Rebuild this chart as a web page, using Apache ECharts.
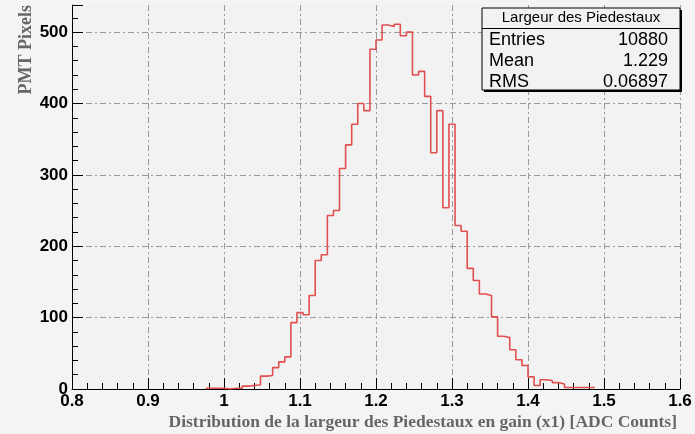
<!DOCTYPE html>
<html>
<head>
<meta charset="utf-8">
<script src="https://cdn.jsdelivr.net/npm/echarts@6/dist/echarts.min.js"></script>
<style>
  html, body { margin: 0; padding: 0; background: #f4f4f4; }
  #chart { width: 695px; height: 434px; }
</style>
</head>
<body>
<div id="chart"></div>
<script>
// Histogram definition: 100 bins from 0.8 to 1.6
const histMin = 0.8;
const histMax = 1.6;
const binWidth = 0.008;
// counts per bin
const counts = [
  0,0,0,0,0,0,0,0,0,0,
  0,0,0,0,0,0,0,0,0,0,
  0,0,1,1,1,0,1,1,4,5,
  6,18,19,30,38,45,93,107,104,131,
  180,188,243,250,309,342,371,400,390,476,
  489,510,508,511,495,500,440,445,410,331,
  390,254,371,229,221,169,152,133,131,101,
  74,72,55,41,33,17,5,13,12,9,
  7,2,2,2,2,2,0,0,0,0,
  0,0,0,0,0,0,0,0,0,0
];
const xTickStep = 0.1;
const yTickStep = 100;
const yMax = 538;
const statsTitle = 'Largeur des Piedestaux';
const statLabels = ['Entries', 'Mean', 'RMS'];
const statValues = ['10880', '1.229', '0.06897'];
const xTitle = 'Distribution de la largeur des Piedestaux en gain (x1) [ADC Counts]';
const yTitle = 'PMT Pixels';

// build step points at bin left edges (non-empty range), plus closing point at right edge
let first = counts.findIndex(c => c > 0);
let last = counts.length - 1;
while (last > 0 && counts[last] === 0) last--;
const pts = [];
for (let i = first; i <= last; i++) pts.push([+(histMin + i * binWidth).toFixed(4), counts[i]]);
pts.push([+(histMin + (last + 1) * binWidth).toFixed(4), counts[last]]);

const chart = echarts.init(document.getElementById('chart'), null, { renderer: 'canvas' });

const gridDash = [6, 3, 2, 3];
const labelFont = { color: '#000', fontFamily: '"Liberation Sans", Arial, sans-serif', fontWeight: 'bold', fontSize: 17 };

const statsGraphics = [];
const bx = 482, by = 8, bw = 198, bh = 82;
statsGraphics.push({ type: 'rect', shape: { x: bx + 2, y: by + 2, width: bw, height: bh }, style: { fill: '#000' }, z: 10 });
statsGraphics.push({ type: 'rect', shape: { x: bx, y: by, width: bw, height: bh }, style: { fill: '#f2f2f2', stroke: '#000', lineWidth: 1 }, z: 11 });
statsGraphics.push({ type: 'line', shape: { x1: bx, y1: by + 20.5, x2: bx + bw, y2: by + 20.5 }, style: { stroke: '#000', lineWidth: 1 }, z: 12 });
statsGraphics.push({ type: 'text', x: bx + bw / 2, y: by + 10, z: 12,
  style: { text: statsTitle, font: '15px "Liberation Sans", Arial, sans-serif', fill: '#000', align: 'center', verticalAlign: 'middle' } });
statLabels.forEach((lab, k) => {
  const yy = 40 + k * 20.8;
  statsGraphics.push({ type: 'text', x: 489, y: yy, z: 12,
    style: { text: lab, font: '18px "Liberation Sans", Arial, sans-serif', fill: '#000', align: 'left', verticalAlign: 'middle' } });
  statsGraphics.push({ type: 'text', x: 668, y: yy, z: 12,
    style: { text: statValues[k], font: '18px "Liberation Sans", Arial, sans-serif', fill: '#000', align: 'right', verticalAlign: 'middle' } });
});

chart.setOption({
  backgroundColor: '#f4f4f4',
  animation: false,
  grid: { left: 72, right: 15, top: 5, bottom: 45, show: true, backgroundColor: '#f2f2f2', borderWidth: 0 },
  xAxis: {
    type: 'value', min: histMin, max: histMax, interval: xTickStep,
    axisLine: { onZero: false, lineStyle: { color: '#000', width: 1 } },
    axisTick: { inside: true, length: 11, lineStyle: { color: '#000' } },
    minorTick: { show: true, splitNumber: 5, length: 6, lineStyle: { color: '#000' } },
    axisLabel: Object.assign({ margin: 4 }, labelFont),
    splitLine: { show: true, showMinLine: false, lineStyle: { color: '#9a9a9a', width: 1, type: gridDash } }
  },
  yAxis: {
    type: 'value', min: 0, max: yMax, interval: yTickStep,
    axisLine: { show: true, onZero: false, lineStyle: { color: '#000', width: 1 } },
    axisTick: { show: true, inside: true, length: 11, lineStyle: { color: '#000' } },
    minorTick: { show: true, splitNumber: 5, length: 6, lineStyle: { color: '#000' } },
    axisLabel: Object.assign({ margin: 4, showMaxLabel: false }, labelFont),
    splitLine: { show: true, showMinLine: false, showMaxLine: false, lineStyle: { color: '#9a9a9a', width: 1, type: gridDash } }
  },
  series: [{
    type: 'line', step: 'end', data: pts, symbol: 'none', z: 2,
    lineStyle: { color: '#e05050', width: 1.6 }
  }],
  graphic: [
    { type: 'text', x: 26, y: 5, rotation: Math.PI / 2,
      style: { text: yTitle, font: 'bold 18px "Liberation Serif", "Times New Roman", serif', fill: '#666', align: 'right', verticalAlign: 'middle' } },
    { type: 'text', x: 677, y: 422,
      style: { text: xTitle, font: 'bold 17.5px "Liberation Serif", "Times New Roman", serif', fill: '#666', align: 'right', verticalAlign: 'middle' } }
  ].concat(statsGraphics)
});
</script>
</body>
</html>
